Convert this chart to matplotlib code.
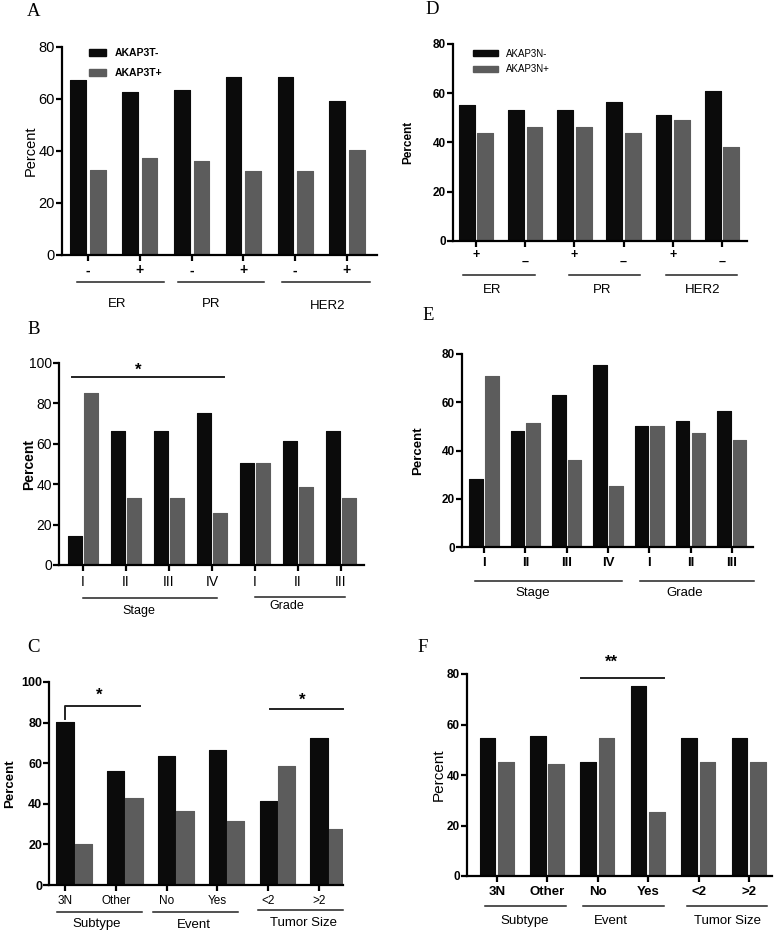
#!/usr/bin/python3

### Imports
from matplotlib import pyplot as plt
from matplotlib import transforms
from matplotlib.patches import Patch

plt.rcParams['font.family'] = ['Liberation Sans', 'DejaVu Sans']

# ---- data (percent) ----
a_labels = ['-', '+', '-', '+', '-', '+']
a_groups = ['ER', 'PR', 'HER2']
a_neg = [67.4, 62.5, 63.4, 68.5, 68.5, 59.4]
a_pos = [32.5, 37.4, 36.3, 32.3, 32.3, 40.3]

d_labels = ['+', '\u2013', '+', '\u2013', '+', '\u2013']
d_groups = ['ER', 'PR', 'HER2']
d_neg = [55.3, 53.3, 53.3, 56.3, 51.2, 61.1]
d_pos = [44.0, 46.2, 46.2, 44.0, 49.2, 38.2]

b_labels = ['I', 'II', 'III', 'IV', 'I', 'II', 'III']
b_groups = ['Stage', 'Grade']
b_neg = [14.5, 66.2, 66.2, 75.3, 50.4, 61.4, 66.2]
b_pos = [85.2, 33.3, 33.3, 25.5, 50.4, 38.4, 33.3]

e_labels = ['I', 'II', 'III', 'IV', 'I', 'II', 'III']
e_groups = ['Stage', 'Grade']
e_neg = [28.2, 48.2, 63.1, 75.3, 50.3, 52.3, 56.2]
e_pos = [71.0, 51.2, 36.2, 25.1, 50.3, 47.2, 44.2]

c_labels = ['3N', 'Other', 'No', 'Yes', '<2', '>2']
c_groups = ['Subtype', 'Event', 'Tumor Size']
c_neg = [80.3, 56.2, 63.6, 66.4, 41.3, 72.5]
c_pos = [20.2, 43.1, 36.4, 31.3, 58.5, 27.4]

f_labels = ['3N', 'Other', 'No', 'Yes', '<2', '>2']
f_groups = ['Subtype', 'Event', 'Tumor Size']
f_neg = [54.5, 55.4, 45.2, 75.3, 54.5, 54.5]
f_pos = [45.2, 44.3, 54.5, 25.4, 45.2, 45.2]

BLACK = '#0b0b0b'
GRAY = '#5c5c5c'
W, H = 778, 933

fig = plt.figure(figsize=(W / 100, H / 100), dpi=100)


def fy(ypx):
	return 1 - ypx / H


def panel(box, neg, pos, labels, ymax, ystep, tick0, step, offs, width,
		ytick_kw, xtick_kw, ylab_kw, ylab_x, xpad):
	left, right, top, bottom = box
	ax = fig.add_axes([left / W, 1 - bottom / H, (right - left) / W, (bottom - top) / H])
	x = list(range(len(neg)))
	ax.bar([i + offs[0] for i in x], neg, width=width, color=BLACK,
		edgecolor=BLACK, linewidth=0.8, joinstyle='round')
	ax.bar([i + offs[1] for i in x], pos, width=width, color=GRAY,
		edgecolor=GRAY, linewidth=0.8, joinstyle='round')
	ax.set_xlim((left - tick0) / step, (right - tick0) / step)
	ax.set_ylim(0, ymax)
	ax.set_yticks(range(0, ymax + 1, ystep))
	ax.set_xticks(x, labels, **xtick_kw)
	for t in ax.get_yticklabels():
		t.set_fontsize(ytick_kw['size'])
		t.set_fontweight(ytick_kw['weight'])
	for s in ['top', 'right']:
		ax.spines[s].set_visible(False)
	for s in ['left', 'bottom']:
		ax.spines[s].set_linewidth(1.6)
	ax.tick_params(axis='y', length=4, width=1.6, pad=1)
	ax.tick_params(axis='x', length=4, width=1.6, pad=xpad)
	ax.set_ylabel('Percent', **ylab_kw)
	# label anchor is its right edge (rotated text)
	ax.yaxis.set_label_coords((ylab_x - left) / (right - left), 0.5)
	return ax


def groups(ax, spans, line_y, names, name_xy, size, weight='normal'):
	tr = transforms.blended_transform_factory(ax.transData, fig.transFigure)
	for (x0, x1), ly in zip(spans, line_y):
		ax.plot([x0, x1], [fy(ly), fy(ly)], color='#222222', lw=1.1, transform=tr, clip_on=False)
	for name, (nx, ny) in zip(names, name_xy):
		ax.text(nx, fy(ny), name, transform=tr, ha='center', va='center',
			fontsize=size, fontweight=weight)


def letter(xpx, ypx, s):
	fig.text(xpx / W, fy(ypx), s, family='Liberation Serif', fontsize=13.5, va='center', ha='left')


# ---------- A ----------
boxA = (62, 377, 47, 255)
t0, st = 88, 51.8
axA = panel(boxA, a_neg, a_pos, a_labels, 80, 20, t0, st, (-0.19, 0.19), 0.30,
	{'size': 10.5, 'weight': 'normal'}, {'fontsize': 10, 'fontweight': 'bold'},
	{'fontsize': 10.5}, 38, 2)
px = lambda p: (p - t0) / st
groups(axA, [(px(77), px(164)), (px(178), px(264)), (px(282), px(370))], [282] * 3,
	a_groups, [(px(117), 304), (px(211), 304), (px(328), 306)], 9.5)
axA.legend(handles=[Patch(color=BLACK, label='AKAP3T-'), Patch(color=GRAY, label='AKAP3T+')],
	loc='upper left', bbox_to_anchor=((80 - 62) / 315, 1.04), frameon=False,
	handlelength=1.6, handleheight=0.6, labelspacing=1.0, prop={'size': 7.5, 'weight': 'bold'})
letter(27, 11, 'A')

# ---------- D ----------
boxD = (453, 747, 44, 241)
t0, st = 476, 49.2
axD = panel(boxD, d_neg, d_pos, d_labels, 80, 20, t0, st, (-0.19, 0.19), 0.32,
	{'size': 8.5, 'weight': 'bold'}, {'fontsize': 9, 'fontweight': 'bold'},
	{'fontsize': 8.5, 'fontweight': 'bold'}, 414, 2)
for i, t in enumerate(axD.get_xticklabels()):
	if i % 2 == 1:
		t.set_y(-0.035)
px = lambda p: (p - t0) / st
groups(axD, [(px(463), px(535)), (px(569), px(640)), (px(666), px(737))], [275] * 3,
	d_groups, [(px(492), 290), (px(602), 290), (px(703), 290)], 9.5)
axD.legend(handles=[Patch(color=BLACK, label='AKAP3N-'), Patch(color=GRAY, label='AKAP3N+')],
	loc='upper left', bbox_to_anchor=((464 - 453) / 294, 1.02), frameon=False,
	handlelength=2.6, handleheight=0.6, labelspacing=0.55, prop={'size': 7})
letter(425, 10, 'D')

# ---------- B ----------
boxB = (59, 364, 363, 565)
t0, st = 83, 43
axB = panel(boxB, b_neg, b_pos, b_labels, 100, 20, t0, st, (-0.18, 0.18), 0.32,
	{'size': 10, 'weight': 'normal'}, {'fontsize': 10},
	{'fontsize': 10, 'fontweight': 'bold'}, 36, 3)
px = lambda p: (p - t0) / st
groups(axB, [(px(83), px(217)), (px(255), px(345))], [598, 597],
	b_groups, [(px(139), 611), (px(287), 606)], 9)
tr = transforms.blended_transform_factory(axB.transData, fig.transFigure)
axB.plot([px(72), px(224)], [fy(377), fy(377)], color='#222222', lw=1.4, transform=tr, clip_on=False)
axB.text(px(138), fy(370), '*', transform=tr, ha='center', va='center', fontsize=12, fontweight='bold')
letter(27, 330, 'B')

# ---------- E ----------
boxE = (462, 753, 354, 547)
t0, st = 484, 41.3
axE = panel(boxE, e_neg, e_pos, e_labels, 80, 20, t0, st, (-0.19, 0.19), 0.33,
	{'size': 8.5, 'weight': 'bold'}, {'fontsize': 9.5, 'fontweight': 'bold'},
	{'fontsize': 9.5, 'fontweight': 'bold'}, 424, 3)
px = lambda p: (p - t0) / st
groups(axE, [(px(475), px(622)), (px(640), px(754))], [581, 581],
	e_groups, [(px(533), 593), (px(685), 593)], 9.5)
letter(422, 315, 'E')

# ---------- C ----------
boxC = (49, 343, 682, 885)
t0, st = 65, 50.8
axC = panel(boxC, c_neg, c_pos, c_labels, 100, 20, t0, st, (0.0, 0.36), 0.34,
	{'size': 9, 'weight': 'bold'}, {'fontsize': 8.5},
	{'fontsize': 9.5, 'fontweight': 'bold'}, 16, 3)
px = lambda p: (p - t0) / st
groups(axC, [(px(57), px(142)), (px(153), px(238)), (px(258), px(343))], [912, 912, 910],
	c_groups, [(px(97), 924), (px(194), 925), (px(304), 923)], 9.5)
axC.plot([0, 0, px(140)], [82, 88, 88], color='#222222', lw=1.4, clip_on=False)
axC.text(px(99), 93.5, '*', ha='center', va='center', fontsize=12, fontweight='bold')
axC.plot([px(270), px(343)], [86.7, 86.7], color='#222222', lw=1.4, clip_on=False)
axC.text(px(302), 91, '*', ha='center', va='center', fontsize=12, fontweight='bold')
letter(27, 648, 'C')

# ---------- F ----------
boxF = (467, 772, 674, 876)
t0, st = 497, 50.4
axF = panel(boxF, f_neg, f_pos, f_labels, 80, 20, t0, st, (-0.19, 0.175), 0.31,
	{'size': 8.5, 'weight': 'bold'}, {'fontsize': 9.5, 'fontweight': 'bold'},
	{'fontsize': 11}, 446, 3)
px = lambda p: (p - t0) / st
groups(axF, [(px(485), px(566)), (px(583), px(664)), (px(687), px(767))], [906] * 3,
	f_groups, [(px(525), 921), (px(611), 921), (px(728), 921)], 9.5)
axF.plot([px(581), px(664)], [78.4, 78.4], color='#222222', lw=1.4, clip_on=False)
axF.text(px(611), 84.5, '**', ha='center', va='center', fontsize=12, fontweight='bold')
letter(417, 648, 'F')

fig.savefig('out.png', dpi=100)
